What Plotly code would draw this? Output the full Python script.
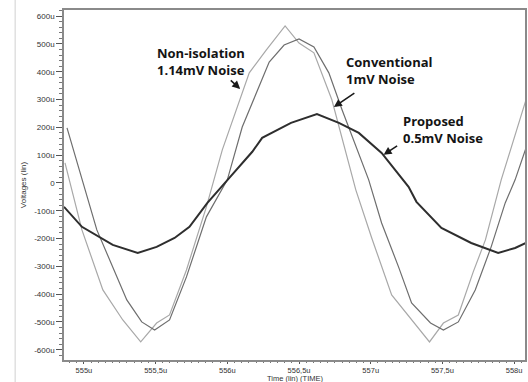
import plotly.graph_objects as go

# --- data (time in us, voltage in uV) ---
t_noniso = [554.868, 554.986, 555.132, 555.271, 555.396, 555.507, 555.597, 555.715, 555.854, 555.965,
            556.153, 556.271, 556.403, 556.5, 556.604, 556.729, 556.896, 557.007, 557.146, 557.285,
            557.41, 557.507, 557.611, 557.715, 557.8, 557.91, 558.083]
v_noniso = [72, -169, -385, -493, -572, -504, -475, -313, -86, 119,
            396, 478, 565, 503, 468, 299, -25, -198, -403, -493,
            -572, -504, -475, -320, -205, 11, 299]

t_conv = [554.882, 555.007, 555.09, 555.299, 555.403, 555.493, 555.597, 555.715, 555.854, 556.0,
          556.104, 556.292, 556.396, 556.5, 556.604, 556.708, 556.8, 556.986, 557.076, 557.194,
          557.285, 557.417, 557.507, 557.611, 557.729, 557.84, 557.938, 558.007, 558.083]
v_conv = [198, -25, -169, -421, -500, -529, -493, -338, -122, 11,
          201, 435, 496, 518, 489, 396, 263, 11, -144, -302,
          -432, -504, -529, -500, -385, -230, -72, 11, 126]

t_prop = [554.861, 554.986, 555.201, 555.375, 555.507, 555.632, 555.736, 555.861, 556.014, 556.174,
          556.243, 556.444, 556.625, 556.778, 556.917, 557.076, 557.264, 557.319, 557.493, 557.611,
          557.701, 557.889, 558.007, 558.083]
v_prop = [-86, -158, -223, -252, -230, -198, -158, -72, 18, 112,
          162, 216, 248, 216, 180, 108, -14, -68, -162, -194,
          -216, -252, -234, -216]

x_tickvals = [555, 555.5, 556, 556.5, 557, 557.5, 558]
x_ticktext = ["555u", "555,5u", "556u", "556,5u", "557u", "557,5u", "558u"]
y_tickvals = [600, 500, 400, 300, 200, 100, 0, -100, -200, -300, -400, -500, -600]
y_ticktext = ["600u", "500u", "400u", "300u", "200u", "100u", "0",
              "-100u", "-200u", "-300u", "-400u", "-500u", "-600u"]

labels = [("<b>Non-isolation<br>1.14mV Noise</b>", 555.493, 437),
          ("<b>Conventional<br>1mV Noise</b>", 556.8125, 405),
          ("<b>Proposed<br>0.5mV Noise</b>", 557.208, 192)]
arrows = [(556.09, 338, -11, -10), (556.743, 273, 22, -15), (557.09, 101, 15, -10)]

fig = go.Figure()
fig.add_trace(go.Scatter(x=t_noniso, y=v_noniso, mode="lines",
                         line=dict(color="#a8a8a8", width=1.2), name="Non-isolation"))
fig.add_trace(go.Scatter(x=t_conv, y=v_conv, mode="lines",
                         line=dict(color="#6e6e6e", width=1.2), name="Conventional"))
fig.add_trace(go.Scatter(x=t_prop, y=v_prop, mode="lines",
                         line=dict(color="#2e2e2e", width=2), name="Proposed"))

for text, x, y in labels:
    fig.add_annotation(x=x, y=y, text=text, showarrow=False, xanchor="left", yanchor="middle",
                       align="left", font=dict(family="Open Sans", size=13, color="#141414"))
for x, y, ax, ay in arrows:
    fig.add_annotation(x=x, y=y, ax=ax, ay=ay, text="", showarrow=True, arrowhead=2,
                       arrowsize=1, arrowwidth=1.6, arrowcolor="#1a1a1a", standoff=0)

fig.add_shape(type="line", xref="paper", yref="paper", x0=-0.106, x1=-0.106, y0=-0.07, y1=1.03,
              line=dict(color="#d0d0d0", width=1))

axis_font = dict(family="Liberation Sans", size=8, color="#333333")
fig.add_annotation(x=0.5, y=-22 / 350, xref="paper", yref="paper", text="Time (lin) (TIME)",
                   showarrow=False, xanchor="center", yanchor="bottom", yshift=-2,
                   font=dict(family="Liberation Sans", size=7.5, color="#333333"), borderpad=0)

fig.update_xaxes(range=[554.861, 558.076], tickvals=x_tickvals, ticktext=x_ticktext,
                 showgrid=False, zeroline=False, showline=True, linecolor="#8a8a8a", linewidth=1.5,
                 mirror=True, ticks="outside", ticklen=2, tickcolor="#555555",
                 minor=dict(dtick=0.05, ticks="outside", ticklen=1, tickcolor="#777777"),
                 tickfont=dict(family="Liberation Sans", size=7.5, color="#333333"))
fig.update_yaxes(range=[-637, 622], tickvals=y_tickvals, ticktext=y_ticktext,
                 showgrid=False, zeroline=False, showline=True, linecolor="#8a8a8a", linewidth=1.5,
                 mirror=True, ticks="outside", ticklen=6, tickcolor="#555555",
                 minor=dict(dtick=20, ticks="outside", ticklen=3, tickcolor="#777777"),
                 tickfont=axis_font,
                 title=dict(text="Voltages (lin)", font=axis_font, standoff=6))

fig.update_layout(width=528, height=382, margin=dict(l=64, r=1, t=10, b=22),
                  plot_bgcolor="white", paper_bgcolor="white", showlegend=False)

fig.write_html("out.html")
